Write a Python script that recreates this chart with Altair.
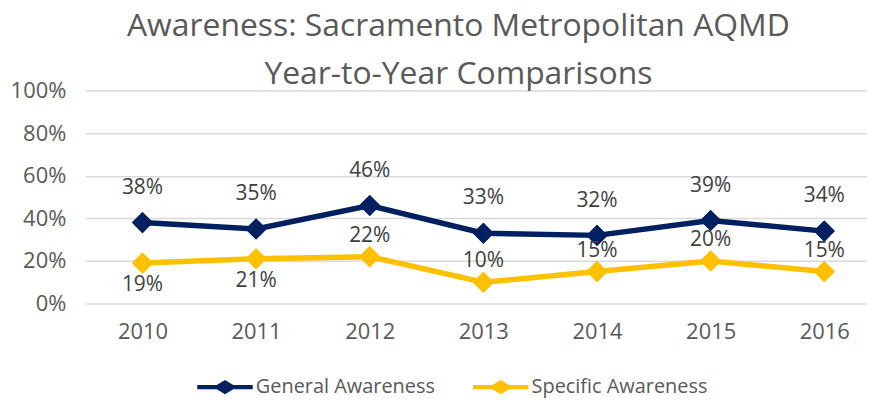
import altair as alt
import pandas as pd

years = [2010, 2011, 2012, 2013, 2014, 2015, 2016]
general = [38, 35, 46, 33, 32, 39, 34]
specific = [19, 21, 22, 10, 15, 20, 15]
series = ["General Awareness", "Specific Awareness"]
colors = ["#002060", "#FFC000"]
y_ticks = [0, 0.2, 0.4, 0.6, 0.8, 1.0]
# where each data label sits relative to its point
general_side = ["above"] * 7
specific_side = ["below", "below", "above", "above", "above", "above", "above"]

rows = []
for i, yr in enumerate(years):
    rows.append({"Year": yr, "Series": series[0], "Value": general[i] / 100, "Side": general_side[i]})
    rows.append({"Year": yr, "Series": series[1], "Value": specific[i] / 100, "Side": specific_side[i]})
df = pd.DataFrame(rows)

FONT = "Open Sans"
GRAY = "#595959"
legend_shape = "M-1,-0.08H-0.3L0,-0.26L0.3,-0.08H1V0.08H0.3L0,0.26L-0.3,0.08H-1Z"

x = alt.X("Year:Q",
          scale=alt.Scale(domain=[2009.5, 2016.376], nice=False, zero=False),
          axis=alt.Axis(title=None, values=years, format="d", labelAngle=0, domain=False,
                        ticks=False, grid=False, labelPadding=18, labelFontSize=22,
                        labelColor=GRAY, labelFont=FONT, labelFlush=False))
y = alt.Y("Value:Q", scale=alt.Scale(domain=[0, 1]),
          axis=alt.Axis(title=None, values=y_ticks, format=".0%", domain=False, ticks=False,
                        labelPadding=20, labelFontSize=22, labelColor=GRAY, labelFont=FONT,
                        gridColor="#D9D9D9", gridWidth=1.5))
color = alt.Color("Series:N", scale=alt.Scale(domain=series, range=colors),
                  legend=alt.Legend(title=None, orient="none", direction="horizontal",
                                    legendX=112, legendY=270,
                                    symbolType=legend_shape, symbolSize=3100,
                                    symbolStrokeWidth=0, symbolOpacity=1,
                                    labelFontSize=20, labelFont=FONT, labelColor=GRAY,
                                    labelLimit=400, labelOffset=3, columnPadding=37))

base = alt.Chart(df).encode(x=x, y=y, color=color)

points = base.mark_point(shape="diamond", filled=True, size=450, opacity=1)
line = base.mark_line(strokeWidth=5.5)

text_style = dict(fontSize=21, font=FONT, color="#404040")
lab_gen = base.transform_filter(alt.datum.Series == series[0]).mark_text(dy=-35, **text_style).encode(
    text=alt.Text("Value:Q", format=".0%"), color=alt.value("#404040"))
lab_spec_above = base.transform_filter(
    (alt.datum.Series == series[1]) & (alt.datum.Side == "above")).mark_text(dy=-21, **text_style).encode(
    text=alt.Text("Value:Q", format=".0%"), color=alt.value("#404040"))
lab_spec_below = base.transform_filter(
    (alt.datum.Series == series[1]) & (alt.datum.Side == "below")).mark_text(dy=22, **text_style).encode(
    text=alt.Text("Value:Q", format=".0%"), color=alt.value("#404040"))

chart = alt.layer(points, line, points, lab_gen, lab_spec_above, lab_spec_below).properties(
    width=785, height=214,
    title=alt.TitleParams(["Awareness: Sacramento Metropolitan AQMD", "Year-to-Year Comparisons"],
                          fontSize=32, font=FONT, fontWeight="normal", color=GRAY,
                          lineHeight=48, anchor="middle", dx=-18, offset=-11),
    autosize=alt.AutoSizeParams(type="none"),
    padding={"left": 78, "top": 82, "right": 0, "bottom": 97},
).configure_view(stroke=None)

chart.save("out.html", embed_options={"renderer": "svg", "actions": False})
